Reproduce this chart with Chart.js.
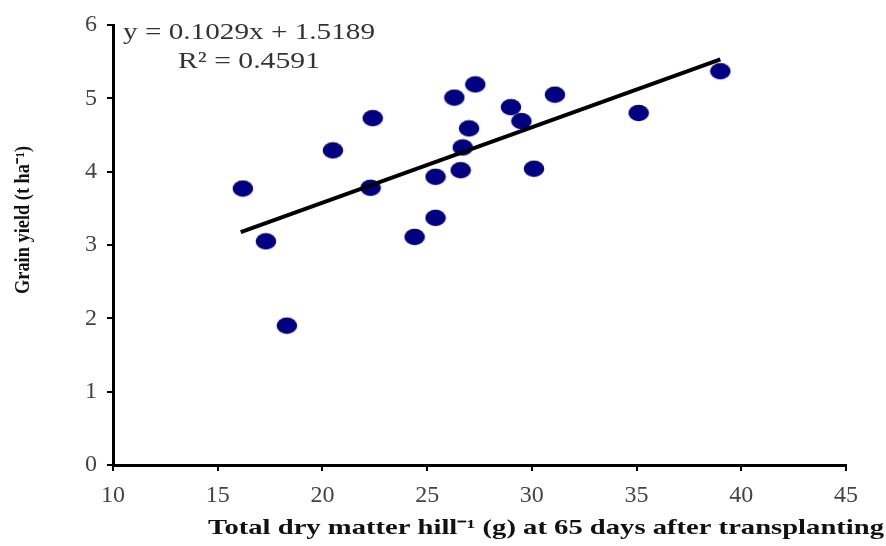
<!DOCTYPE html>
<html>
<head>
<meta charset="utf-8">
<script src="https://cdn.jsdelivr.net/npm/chart.js@4.4.1/dist/chart.umd.min.js"></script>
<style>
  html, body { margin: 0; padding: 0; background: #fff; }
  #wrap { width: 886px; height: 546px; position: relative; }
</style>
</head>
<body>
<div id="wrap"><canvas id="yieldChart"></canvas></div>
<script>
// dry matter (g hill-1) at 65 DAT vs grain yield (t ha-1)
const dryMatter = [16.2, 17.3, 18.3, 20.5, 22.3, 22.4, 24.4, 25.4, 25.4, 26.3, 26.6, 26.7, 27.0, 27.3, 29.0, 29.5, 30.1, 31.1, 35.1, 39.0];
const grainYield = [3.77, 3.05, 1.90, 4.29, 3.78, 4.73, 3.11, 3.37, 3.93, 5.01, 4.02, 4.33, 4.59, 5.19, 4.88, 4.69, 4.04, 5.05, 4.80, 5.37];

// fitted line as printed on the chart
const slope = 0.1029;
const intercept = 1.5189;
const rSquared = '0.4591';
const trendRange = [16.1, 39.0];

const xTickValues = [10, 15, 20, 25, 30, 35, 40, 45];
const yTickValues = [0, 1, 2, 3, 4, 5, 6];

const points = dryMatter.map((x, i) => ({ x: x, y: grainYield[i] }));
const trend = trendRange.map(x => ({ x: x, y: slope * x + intercept }));

// oval marker like the original
const marker = document.createElement('canvas');
marker.width = 22;
marker.height = 18;
const mctx = marker.getContext('2d');
mctx.fillStyle = '#000080';
mctx.beginPath();
mctx.ellipse(11, 9, 10.3, 8.3, 0, 0, Math.PI * 2);
mctx.fill();

const serif = '"Liberation Serif", "Times New Roman", serif';

function fitText(ctx, text, x, y, targetWidth, align) {
  const w = ctx.measureText(text).width;
  const sx = targetWidth / w;
  ctx.save();
  ctx.translate(x, y);
  ctx.scale(sx, 1);
  ctx.textAlign = align;
  ctx.fillText(text, 0, 0);
  ctx.restore();
}

const labelsPlugin = {
  id: 'labels',
  afterDraw(chart) {
    const ctx = chart.ctx;
    ctx.save();
    ctx.textBaseline = 'middle';

    // regression equation
    ctx.fillStyle = '#333';
    ctx.font = '23px ' + serif;
    fitText(ctx, 'y = ' + slope + 'x + ' + intercept, 123, 33, 252, 'left');
    fitText(ctx, 'R² = ' + rSquared, 178, 62, 142, 'left');

    // axis titles
    ctx.fillStyle = '#111';
    ctx.font = 'bold 21px ' + serif;
    fitText(ctx, 'Total dry matter hill⁻¹ (g) at 65 days after transplanting', 546, 529, 676, 'center');

    ctx.save();
    ctx.translate(24, 220);
    ctx.rotate(-Math.PI / 2);
    ctx.font = 'bold 20px ' + serif;
    fitText(ctx, 'Grain yield (t ha⁻¹)', 0, 0, 148, 'center');
    ctx.restore();

    ctx.restore();
  }
};

const ctx = document.getElementById('yieldChart').getContext('2d');
new Chart(ctx, {
  type: 'scatter',
  data: {
    datasets: [
      {
        label: 'Grain yield',
        data: points,
        pointStyle: marker,
        pointRadius: 10,
        order: 2
      },
      {
        label: 'Linear fit',
        type: 'line',
        data: trend,
        borderColor: '#000',
        borderWidth: 4,
        pointRadius: 0,
        fill: false,
        order: 1
      }
    ]
  },
  options: {
    responsive: true,
    maintainAspectRatio: false,
    animation: false,
    layout: { padding: { top: 25, right: 40, left: 0, bottom: 0 } },
    plugins: {
      legend: { display: false },
      tooltip: { enabled: false }
    },
    scales: {
      x: {
        type: 'linear',
        min: 10,
        max: 45,
        afterFit: scale => { scale.height = 81; },
        afterBuildTicks: scale => { scale.ticks = xTickValues.map(v => ({ value: v })); },
        border: { display: true, color: '#000', width: 3 },
        grid: { drawOnChartArea: false, drawTicks: true, tickLength: 6, color: '#000', lineWidth: 2 },
        ticks: { color: '#444', font: { family: serif, size: 24 }, padding: 10 }
      },
      y: {
        type: 'linear',
        min: 0,
        max: 6,
        afterFit: scale => { scale.width = 113; },
        afterBuildTicks: scale => { scale.ticks = yTickValues.map(v => ({ value: v })); },
        border: { display: true, color: '#000', width: 3 },
        grid: { drawOnChartArea: false, drawTicks: true, tickLength: 6, color: '#000', lineWidth: 2 },
        ticks: { color: '#444', font: { family: serif, size: 24 }, padding: 10 }
      }
    }
  },
  plugins: [labelsPlugin]
});
</script>
</body>
</html>
